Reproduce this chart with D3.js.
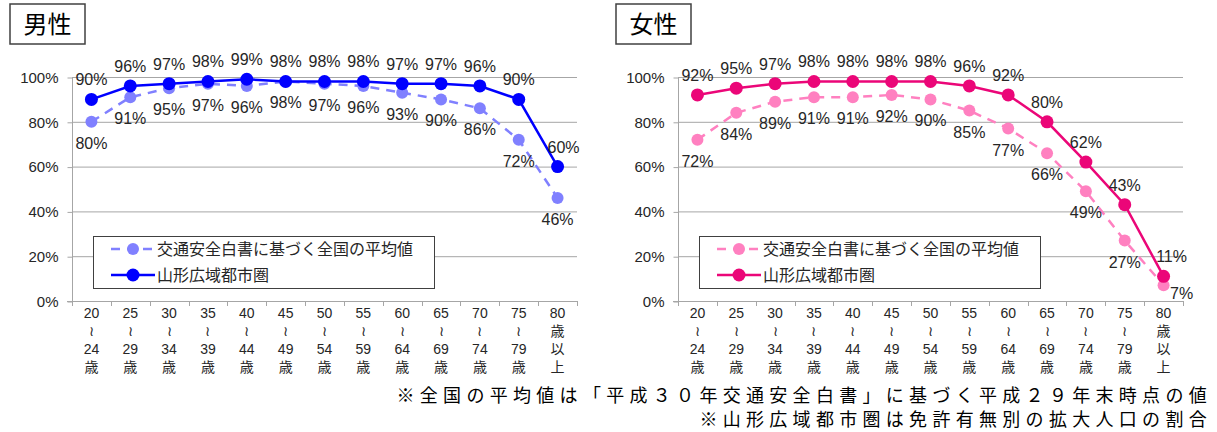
<html>
<head>
<meta charset="utf-8">
<script src="https://cdn.jsdelivr.net/npm/d3@7"></script>
<style>
    body { margin: 0; background: #fff; }
    text { font-family: "Liberation Sans", Arial, sans-serif; fill: #262626; }
    .jp { font-family: "Noto Sans CJK JP", sans-serif; }
    .grid line { stroke: #a6a6a6; stroke-width: 1px; }
    .axis path, .axis line { stroke: #a6a6a6; }
</style>
</head>
<body>
<script>

    // age groups
    var categories = ["20～24歳", "25～29歳", "30～34歳", "35～39歳", "40～44歳", "45～49歳", "50～54歳",
        "55～59歳", "60～64歳", "65～69歳", "70～74歳", "75～79歳", "80歳以上"];

    var seriesNames = ["交通安全白書に基づく全国の平均値", "山形広域都市圏"];

    // values in percent
    var maleNational = [80, 91, 95, 97, 96, 98, 97, 96, 93, 90, 86, 72, 46];
    var maleYamagata = [90, 96, 97, 98, 99, 98, 98, 98, 97, 97, 96, 90, 60];
    var femaleNational = [72, 84, 89, 91, 91, 92, 90, 85, 77, 66, 49, 27, 7];
    var femaleYamagata = [92, 95, 97, 98, 98, 98, 98, 96, 92, 80, 62, 43, 11];

    var yTicks = [0, 20, 40, 60, 80, 100];

    var notes = ["※全国の平均値は「平成３０年交通安全白書」に基づく平成２９年末時点の値",
        "※山形広域都市圏は免許有無別の拡大人口の割合"];

    var width = 1217, height = 432;

    var svg = d3.select("body").append("svg")
        .attr("width", width)
        .attr("height", height);

    var y = d3.scaleLinear().domain([0, 100]).range([301, 77]);

    function tickLines(c) {
        if (c.indexOf("～") >= 0) {
            var p = c.replace("歳", "").split("～");
            return [p[0], "≀", p[1], "歳"];
        }
        return [c.slice(0, 2), "歳", "以", "上"];
    }

    function panel(opt) {
        var g = svg.append("g");
        var x = d3.scaleBand().domain(categories).range([opt.x0, opt.x0 + 505]);

        // title box
        g.append("rect")
            .attr("x", opt.x0 - 62).attr("y", 4)
            .attr("width", 75).attr("height", 40)
            .attr("fill", "#fff").attr("stroke", "#404040").attr("stroke-width", 1.5);
        g.append("text").attr("class", "jp")
            .attr("x", opt.x0 - 24.5).attr("y", 33)
            .attr("text-anchor", "middle")
            .style("font-size", "24px").style("fill", "#000")
            .text(opt.title);

        // gridlines
        g.append("g").attr("class", "grid")
            .selectAll("line")
            .data(yTicks.slice(1))
            .enter().append("line")
            .attr("x1", opt.x0).attr("x2", opt.x0 + 505)
            .attr("y1", function (d) { return y(d) + 0.5; })
            .attr("y2", function (d) { return y(d) + 0.5; });

        // y axis
        var ya = g.append("g").attr("class", "axis")
            .attr("transform", "translate(" + (opt.x0 + 0.5) + ",0.5)")
            .call(d3.axisLeft(y).tickValues(yTicks).tickSize(5).tickPadding(9)
                .tickFormat(function (d) { return d + "%"; }));
        ya.select(".domain").attr("d", "M0," + y(0) + "V" + y(100));
        ya.selectAll("text").style("font-size", "15px").style("fill", "#262626")
            .attr("font-family", null);

        // x axis line with ticks between categories
        var xa = g.append("g").attr("class", "axis");
        xa.append("line")
            .attr("x1", opt.x0 - 5).attr("x2", opt.x0 + 505)
            .attr("y1", y(0) + 0.5).attr("y2", y(0) + 0.5);
        xa.selectAll("line.tk")
            .data(d3.range(categories.length + 1))
            .enter().append("line").attr("class", "tk")
            .attr("x1", function (i) { return Math.round(opt.x0 + i * x.step()) + 0.5; })
            .attr("x2", function (i) { return Math.round(opt.x0 + i * x.step()) + 0.5; })
            .attr("y1", y(0)).attr("y2", y(0) + 5);

        var lbl = g.append("g").selectAll("g")
            .data(categories)
            .enter().append("g")
            .attr("transform", function (d) {
                return "translate(" + (x(d) + x.bandwidth() / 2) + ",0)";
            });
        lbl.selectAll("text")
            .data(function (d) { return tickLines(d); })
            .enter().append("text")
            .attr("class", function (d, i) { return /[0-9]/.test(d) ? null : "jp"; })
            .attr("y", function (d, i) { return 318 + i * 18; })
            .attr("text-anchor", "middle")
            .style("font-size", "14px")
            .text(function (d) { return d; });

        var cx = function (d, i) { return x(categories[i]) + x.bandwidth() / 2; };
        var line = d3.line()
            .x(function (d, i) { return cx(d, i); })
            .y(function (d) { return y(d); });

        // national average (dashed)
        g.append("path")
            .attr("d", line(opt.national))
            .attr("fill", "none").attr("stroke", opt.light)
            .attr("stroke-width", 2.5).attr("stroke-dasharray", "9,7");
        g.append("g").selectAll("circle")
            .data(opt.national).enter().append("circle")
            .attr("cx", cx).attr("cy", function (d) { return y(d); })
            .attr("r", 6).attr("fill", opt.light);

        // Yamagata (solid)
        g.append("path")
            .attr("d", line(opt.local))
            .attr("fill", "none").attr("stroke", opt.dark)
            .attr("stroke-width", 2.5);
        g.append("g").selectAll("circle")
            .data(opt.local).enter().append("circle")
            .attr("cx", cx).attr("cy", function (d) { return y(d); })
            .attr("r", 6.5).attr("fill", opt.dark);

        // data labels
        g.append("g").selectAll("text")
            .data(opt.national).enter().append("text")
            .attr("x", function (d, i) { return cx(d, i) + (opt.belowDx[i] || 0); })
            .attr("y", function (d, i) { return y(d) + 27 + (opt.belowDy[i] || 0); })
            .attr("text-anchor", "middle")
            .style("font-size", "16px")
            .text(function (d) { return d + "%"; });
        g.append("g").selectAll("text")
            .data(opt.local).enter().append("text")
            .attr("x", function (d, i) { return cx(d, i) + (opt.aboveDx[i] || 0); })
            .attr("y", function (d, i) { return y(d) - 14; })
            .attr("text-anchor", "middle")
            .style("font-size", "16px")
            .text(function (d) { return d + "%"; });

        // legend
        var lg = g.append("g").attr("transform", "translate(" + (opt.x0 + 21) + ",236)");
        lg.append("rect")
            .attr("x", 0.5).attr("y", 0.5).attr("width", 341).attr("height", 52)
            .attr("fill", "#fff").attr("stroke", "#404040").attr("stroke-width", 1);
        var rows = [{c: opt.light, dash: "9,7", r: 6}, {c: opt.dark, dash: null, r: 6.5}];
        rows.forEach(function (r, i) {
            var yy = 13 + i * 26;
            lg.append("line")
                .attr("x1", 18).attr("x2", 62).attr("y1", yy).attr("y2", yy)
                .attr("stroke", r.c).attr("stroke-width", 2.5)
                .attr("stroke-dasharray", r.dash);
            lg.append("circle").attr("cx", 40).attr("cy", yy).attr("r", r.r).attr("fill", r.c);
            lg.append("text").attr("class", "jp")
                .attr("x", 64).attr("y", yy + 6)
                .style("font-size", "16px")
                .text(seriesNames[i]);
        });
    }

    panel({
        title: "男性", x0: 72,
        national: maleNational, local: maleYamagata,
        light: "#8080ff", dark: "#0000ff",
        aboveDx: {12: 6}, belowDx: {}, belowDy: {}
    });

    panel({
        title: "女性", x0: 678,
        national: femaleNational, local: femaleYamagata,
        light: "#ff80c0", dark: "#eb0678",
        aboveDx: {12: 8}, belowDx: {12: 18}, belowDy: {12: -13}
    });

    // footnotes
    svg.append("g").selectAll("text")
        .data(notes).enter().append("text")
        .attr("class", "jp")
        .attr("x", 1212)
        .attr("y", function (d, i) { return 402 + i * 24; })
        .attr("text-anchor", "end")
        .style("font-size", "18px")
        .style("letter-spacing", "5.3px")
        .style("fill", "#000")
        .text(function (d) { return d; });

</script>
</body>
</html>
